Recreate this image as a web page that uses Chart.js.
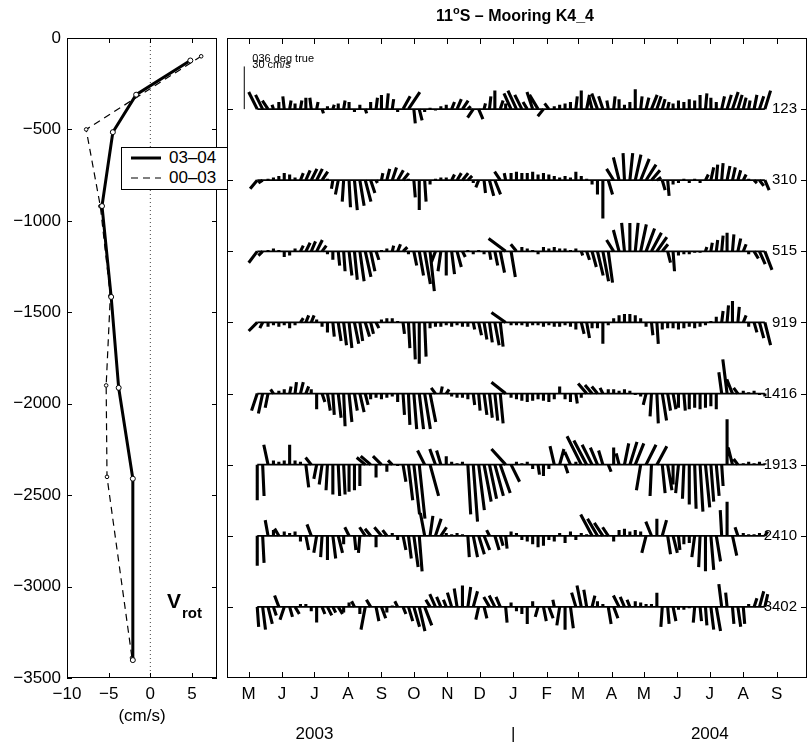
<!DOCTYPE html>
<html lang="en">
<head>
<meta charset="utf-8">
<title>11°S – Mooring K4_4</title>
<script src="https://cdn.jsdelivr.net/npm/chart.js@4.4.1/dist/chart.umd.min.js"></script>
<style>
  html, body { margin: 0; padding: 0; background: #fff; }
  #page { position: relative; width: 808px; height: 744px; overflow: hidden;
          font-family: "Liberation Sans", Arial, Helvetica, sans-serif; color: #000; }
  #profileChart { position: absolute; left: 0; top: 0; }
  #stickChart { position: absolute; left: 222px; top: 0; }
  #legend { position: absolute; left: 121px; top: 147px; width: 105px; height: 41px;
            border: 1px solid #000; background: #fff; font-size: 17px; }
  .row { position: absolute; left: 0; width: 105px; height: 20px; line-height: 20px; }
  .row svg { position: absolute; left: 9px; top: 0; }
  .row span { position: absolute; left: 47px; white-space: nowrap; }
</style>
</head>
<body>
<div id="page">
  <canvas id="profileChart" width="222" height="744"></canvas>
  <canvas id="stickChart" width="586" height="744"></canvas>
  <div id="legend">
    <div class="row" style="top:0px">
      <svg width="30" height="20"><line x1="0" y1="10" x2="30" y2="10" stroke="#000" stroke-width="3"/></svg>
      <span>03–04</span>
    </div>
    <div class="row" style="top:20px">
      <svg width="30" height="20"><line x1="0" y1="10" x2="30" y2="10" stroke="#000" stroke-width="1.2" stroke-dasharray="7 5"/></svg>
      <span>00–03</span>
    </div>
  </div>
</div>
<script>
// ---------- left panel: mean rotated velocity profile ----------
const depth0304 = [123, 310, 515, 919, 1416, 1913, 2410, 3402];
const vrot0304 = [4.8, -1.7, -4.5, -5.8, -4.7, -3.8, -2.1, -2.1];
const depth0003 = [100, 500, 920, 1410, 1900, 2400, 3390];
const vrot0003 = [6.1, -7.7, -6.0, -4.8, -5.3, -5.2, -2.2];
const profileXTicks = [-10, -5, 0, 5];
const profileYTicks = [0, -500, -1000, -1500, -2000, -2500, -3000, -3500];

// ---------- right panel: stick plot, time in days since 1 May 2003 ----------
const monthDays = [0, 31, 61, 92, 123, 153, 184, 214, 245, 276, 305, 336, 366, 397, 427, 458, 489];
const monthLabels = ['M', 'J', 'J', 'A', 'S', 'O', 'N', 'D', 'J', 'F', 'M', 'A', 'M', 'J', 'J', 'A', 'S'];
const yearDays = [61, 245, 427];
const yearLabels = ['2003', '|', '2004'];
const depths = [123, 310, 515, 919, 1416, 1913, 2410, 3402];
const scaleBarDay = -4;
const scaleBarCm = 30;

const stickDays = [8, 13, 18, 23, 28, 33, 38, 43, 48, 53, 58, 63, 68, 73, 78, 83, 88, 93, 98, 103,
  108, 113, 118, 123, 128, 133, 138, 143, 148, 153, 158, 163, 168, 173, 178, 183, 188, 193, 198, 203,
  208, 213, 218, 223, 228, 233, 238, 243, 248, 253, 258, 263, 268, 273, 278, 283, 288, 293, 298, 303,
  308, 313, 318, 323, 328, 333, 338, 343, 348, 353, 358, 363, 368, 373, 378, 383, 388, 393, 398, 403,
  408, 413, 418, 423, 428, 433, 438, 443, 448, 453, 458, 463, 468, 473, 478];

// cross-axis (u) and along-axis (v) components, cm/s
const u123 = [-6,-5,-4,-1,0,-1,1,0,1,0, -1,1,1,0,1,0,1,0,0,0, 1,0,1,0,1,1,0,5,8,1, 2,0,0,0,0,0,2,3,4,2, -4,3,1,1,0,2,0,-5,-6,-5, -3,-4,-6,-4,-3,0,0,0,0,1, 0,2,-2,-4,-3,-1,1,0,0,0, 0,1,2,4,3,2,1,0,0,0, 0,0,0,1,0,0,2,3,4,3, 2,1,2,3,4];
const v123 = [12,10,6,3,5,9,6,4,6,8, 8,5,-3,2,3,4,6,5,-2,3, -3,5,8,10,11,7,-2,9,12,-10, -8,-2,1,-1,2,3,5,7,6,2, -6,-7,4,9,13,6,4,11,13,10, 5,12,10,-5,4,2,3,4,5,9, 13,10,8,11,9,6,9,7,3,5, 14,9,8,10,9,7,5,4,6,5, 7,6,10,11,8,5,9,10,12,10, 8,6,10,9,13];
const u310 = [-5,-3,0,0,0,0,0,0,2,3, 4,4,4,0,-1,-2,-1,1,2,3, 4,3,1,1,2,3,4,4,0,1, 0,1,0,0,0,0,2,3,4,3, 0,-2,1,3,4,-4,-1,0,0,0, 0,0,0,0,0,0,0,0,0,0, 0,0,0,0,0,3,-5,-4,-1,2, 4,6,7,6,3,2,1,0,0,0, 0,0,0,2,2,1,1,2,2,2, 2,0,2,3,3];
const v310 = [-6,-2,1,2,3,5,4,2,5,7, 8,8,6,1,-6,-10,-15,-19,-21,-18, -15,-9,-2,5,8,9,7,5,1,-12, -21,-15,-3,1,2,2,4,5,5,3, -2,-5,-9,-11,-10,6,5,5,6,5, 5,6,4,5,4,3,2,3,2,6, 3,1,-3,-10,-27,-10,8,16,19,19, 18,15,11,7,2,-7,-11,-3,-2,1, -2,1,-2,4,9,11,12,10,9,7, 4,1,-2,-4,-7];
const u515 = [-6,-3,0,0,0,0,0,0,2,3, 3,4,3,0,0,1,1,2,2,3, 4,3,2,0,0,1,2,3,0,2, 3,4,3,-3,-2,0,2,3,2,0, 0,0,0,1,2,3,-12,3,-4,0, 0,0,0,0,0,0,0,0,0,0, 1,2,3,4,4,3,-5,-4,-2,0, 2,4,6,7,7,4,2,1,0,0, 0,0,0,1,1,1,1,0,1,2, 2,0,3,4,5];
const v515 = [-8,-3,1,2,1,-4,-3,2,4,6, 7,8,4,-2,-6,-10,-14,-17,-20,-21, -18,-14,-6,1,2,4,5,3,-2,-10, -17,-23,-28,-8,-14,-17,-16,-11,-4,1, -2,1,-2,-6,-10,-15,9,-18,5,3, 2,1,-2,3,2,3,2,2,1,2, -3,-6,-11,-17,-21,-22,8,15,20,20, 20,19,16,13,10,5,-8,-14,-3,-2, -2,-1,-1,3,6,8,11,13,12,9, 5,-2,-5,-9,-13];
const u919 = [-6,-2,0,0,0,0,0,0,2,2, 2,0,0,0,1,2,2,2,3,2, 3,2,2,0,0,0,0,1,1,1, 0,1,0,0,0,0,0,0,0,0, 1,2,2,2,3,2,-10,0,0,0, 0,0,0,0,0,0,0,0,0,0, 2,2,0,0,0,0,0,0,0,0, 0,0,0,1,1,0,0,0,0,0, 0,0,0,0,0,0,1,1,0,1, 2,0,2,3,4];
const v919 = [-6,-4,-3,-2,-3,-2,-4,-2,3,5, 5,2,-3,-7,-10,-13,-16,-18,-15,-13, -10,-8,-4,2,3,3,1,-8,-18,-26, -29,-24,-4,-3,-3,-2,-3,-2,-3,-3, -5,-9,-12,-14,-16,-17,7,-2,-2,-2, -3,-2,-2,-3,-2,-3,-3,-2,-3,-5, -8,-11,-4,-4,-15,-2,3,5,6,6, 5,3,-3,-9,-15,-5,-4,-4,-5,-4, -3,-4,-3,-2,1,4,8,12,15,11, 5,-3,-7,-11,-16];
const u1416 = [-4,-3,-2,-2,0,0,1,1,2,2, 0,0,2,2,1,2,1,2,2,3, 2,0,0,0,0,0,0,1,1,2, 3,4,4,-3,1,2,0,0,0,0, 1,1,2,2,2,2,-10,0,0,0, 0,0,0,0,0,0,0,0,0,1, 0,-6,-5,-4,-2,0,0,0,0,0, 0,0,-2,-1,1,3,2,2,0,1, 0,0,0,0,0,0,-2,-3,-4,-3, 0,0,0,0,0];
const v1416 = [-12,-14,-10,3,2,3,5,8,8,5, 3,-11,-6,-12,-15,-17,-23,-20,-12,-13, -8,-4,-3,-4,-3,-2,-6,-15,-22,-25, -25,-25,-20,4,5,3,-2,-3,-3,-4, -8,-12,-15,-17,-19,-21,8,-3,-4,-5, -6,-5,-4,-5,-6,-4,5,-4,-6,-7, -3,7,6,5,4,3,3,2,3,2, -1,-2,-8,-16,-21,-19,-12,-11,-10,-12, -11,-10,-11,-10,-9,-11,15,24,10,4, 2,1,2,-1,-2];
const u1913 = [0,1,-3,0,0,0,0,0,0,2, -4,-2,-2,-1,0,1,1,0,0,0, -6,-7,0,-6,0,-3,0,2,3,4, 4,-5,6,-4,-3,0,0,0,0,2, 3,4,5,5,6,7,-10,6,0,0, 0,0,1,0,0,-3,3,2,-4,0, -10,-9,-7,-5,-3,2,0,-2,3,5, 6,-3,7,-1,7,2,3,0,-2,-1, 0,1,2,3,2,2,1,0,-3,-3, 0,0,0,0,0];
const v1913 = [-25,-22,14,3,2,3,14,3,2,-16, 5,-10,-14,-18,-21,-22,-21,-19,-18,-15, 5,6,-9,6,-5,3,-1,-12,-25,-35, -38,10,-22,11,10,6,2,1,2,-35, -40,-32,-26,-24,-22,-20,11,-12,2,1, 2,-3,-7,-8,-3,13,11,-6,9,2, 20,17,14,12,10,-5,12,8,15,16, 15,-18,14,-22,13,-20,-18,-14,-20,-24, -28,-31,-33,-30,-26,-22,-15,32,12,4, 1,2,1,2,1];
const u2410 = [0,1,-2,0,-3,0,0,0,0,2, -3,-2,-1,0,2,3,0,-3,1,-1, -4,-4,0,-5,-3,0,0,2,2,3, 2,-3,2,4,4,0,0,0,0,1, 3,4,4,-2,3,2,1,0,0,0, 0,0,0,0,0,0,0,0,0,0, 0,0,-8,-7,-6,-4,0,0,0,0, 0,0,-3,-4,0,3,2,3,1,0, 0,-2,-1,0,2,3,-1,0,3,-2, 0,0,0,0,2];
const v2410 = [-21,-19,11,4,5,3,2,3,-4,-10, 8,-12,-15,-17,-16,-12,-6,6,-10,-12, 6,5,-8,6,4,2,-3,-10,-16,-22, -25,16,14,12,6,2,1,2,1,-15, -15,-13,-10,4,-10,-7,-9,3,2,-3, -4,-6,-8,-7,-3,-4,2,-5,3,-3, 2,1,15,12,9,6,-4,4,5,3, 4,3,-12,10,12,11,-13,-12,-10,-6, -5,-15,-22,-25,-24,-18,18,24,-14,6, 2,1,1,2,3];
const u3402 = [1,2,3,2,-3,-3,2,3,0,0, 0,0,2,3,2,3,0,0,-2,0, -3,-3,2,3,0,0,-2,2,3,4, 4,5,-3,-4,-3,-2,-3,-2,0,2, 3,-2,2,-4,-4,-3,1,0,0,0, 0,0,-2,2,3,-1,-2,0,2,-3, -3,-2,2,0,0,2,3,-4,-3,-2, 0,0,0,0,0,-1,1,2,0,0, 0,-1,1,1,2,3,-2,-1,1,2, 1,0,2,3,2];
const v3402 = [-14,-16,-12,-6,8,-9,-7,-5,2,2, -3,-11,-5,-6,-4,-5,-4,3,4,-5, -16,5,-10,-8,-4,1,4,-5,-10,-14, -17,-13,5,9,7,5,10,13,15,14, 11,-9,-8,7,8,7,-11,3,-3,-5, -12,4,-7,-10,-8,5,-13,-16,-15,10, 15,12,8,4,2,-12,-8,8,7,5, 4,3,2,2,10,-14,-12,-10,-2,-2, -1,-11,-10,-13,-16,-17,16,10,-12,-14, -12,2,6,11,9];

const stickU = [u123, u310, u515, u919, u1416, u1913, u2410, u3402];
const stickV = [v123, v310, v515, v919, v1416, v1913, v2410, v3402];
stickU.forEach((u, r) => {
  if (u.length !== stickDays.length || stickV[r].length !== stickDays.length) {
    throw new Error('row ' + depths[r] + ' has ' + u.length + '/' + stickV[r].length + ' values');
  }
});

// ---------- shared look ----------
const FONT = '"Liberation Sans", Arial, Helvetica, sans-serif';
Chart.defaults.font.family = FONT;
Chart.defaults.font.size = 17;
Chart.defaults.color = '#000';

const minus = v => String(v).replace('-', '\u2212');
const rowStep = 50;  // cm/s between stick rows
const rowBases = depths.map((d, r) => -(r + 1) * rowStep);

function boxAndTicks(chart, xTicks, yTicks, len) {
  const {ctx, chartArea: a, scales} = chart;
  ctx.save();
  ctx.strokeStyle = '#000';
  ctx.lineWidth = 1;
  ctx.strokeRect(a.left + 0.5, a.top + 0.5, a.width - 1, a.height - 1);
  ctx.beginPath();
  xTicks.forEach(v => {
    const x = Math.round(scales.x.getPixelForValue(v)) + 0.5;
    ctx.moveTo(x, a.bottom); ctx.lineTo(x, a.bottom - len);
    ctx.moveTo(x, a.top); ctx.lineTo(x, a.top + len);
  });
  yTicks.forEach(v => {
    const y = Math.round(scales.y.getPixelForValue(v)) + 0.5;
    ctx.moveTo(a.left, y); ctx.lineTo(a.left + len, y);
    ctx.moveTo(a.right, y); ctx.lineTo(a.right - len, y);
  });
  ctx.stroke();
  ctx.restore();
}

// ---------- left chart ----------
const profileDecor = {
  id: 'profileDecor',
  afterDraw(chart) {
    boxAndTicks(chart, profileXTicks, profileYTicks, 5);
    const {ctx, scales} = chart;
    const x = scales.x.getPixelForValue(2);
    const y = scales.y.getPixelForValue(-3117);
    ctx.save();
    ctx.fillStyle = '#000';
    ctx.textAlign = 'left';
    ctx.textBaseline = 'alphabetic';
    ctx.font = 'bold 21px ' + FONT;
    ctx.fillText('V', x, y);
    const w = ctx.measureText('V').width;
    ctx.font = 'bold 15px ' + FONT;
    ctx.fillText('rot', x + w + 1, y + 10);
    ctx.restore();
  }
};

//eslint-disable-next-line
const profileChart = new Chart(document.getElementById('profileChart'), {
  type: 'line',
  data: {
    datasets: [{
      label: '03–04',
      data: depth0304.map((d, i) => ({x: vrot0304[i], y: -d})),
      borderColor: '#000',
      borderWidth: 3,
      pointRadius: 2.5,
      pointBorderWidth: 1,
      pointBorderColor: '#000',
      pointBackgroundColor: '#fff'
    }, {
      label: '00–03',
      data: depth0003.map((d, i) => ({x: vrot0003[i], y: -d})),
      borderColor: '#000',
      borderWidth: 1.2,
      borderDash: [7, 5],
      pointRadius: 1.8,
      pointBorderWidth: 1,
      pointBorderColor: '#000',
      pointBackgroundColor: '#fff'
    }, {
      label: 'zero',
      data: [{x: 0, y: profileYTicks[0]}, {x: 0, y: profileYTicks[profileYTicks.length - 1]}],
      borderColor: '#444',
      borderWidth: 1,
      borderDash: [1, 3],
      pointRadius: 0
    }]
  },
  options: {
    responsive: false,
    animation: false,
    events: [],
    layout: {padding: {left: 0, right: 5, top: 38, bottom: 0}},
    plugins: {legend: {display: false}, tooltip: {enabled: false}},
    scales: {
      x: {
        type: 'linear', min: -10, max: 8,
        afterBuildTicks: s => { s.ticks = profileXTicks.map(v => ({value: v})); },
        afterFit: s => { s.height = 66; },
        grid: {display: false, drawTicks: false, tickLength: 0},
        border: {display: false},
        ticks: {padding: 6, autoSkip: false, maxRotation: 0, callback: v => minus(v)},
        title: {display: true, text: '(cm/s)', padding: {top: 0, bottom: 17}}
      },
      y: {
        type: 'linear', min: -3500, max: 0,
        afterBuildTicks: s => { s.ticks = profileYTicks.map(v => ({value: v})); },
        afterFit: s => { s.width = 67; },
        grid: {display: false, drawTicks: false, tickLength: 0},
        border: {display: false},
        ticks: {padding: 6, autoSkip: false, callback: v => minus(v)}
      }
    }
  },
  plugins: [profileDecor]
});

// ---------- right chart ----------
function buildStickSets(k) {
  const sets = [];
  stickU.forEach((u, r) => {
    const v = stickV[r];
    const base = rowBases[r];
    sets.push({
      label: depths[r] + ' m baseline',
      data: [{x: stickDays[0], y: base}, {x: stickDays[stickDays.length - 1], y: base}],
      borderColor: '#000', borderWidth: 1.8, pointRadius: 0
    });
    const pts = [];
    stickDays.forEach((d, i) => {
      pts.push({x: d, y: base}, {x: d + u[i] * k, y: base + v[i]}, {x: d, y: null});
    });
    sets.push({label: depths[r] + ' m', data: pts, borderColor: '#000', borderWidth: 3.1,
      borderCapStyle: 'butt', pointRadius: 0, spanGaps: false});
  });
  sets.push({
    label: 'scale',
    data: [{x: scaleBarDay, y: rowBases[0]}, {x: scaleBarDay, y: rowBases[0] + scaleBarCm}],
    borderColor: '#000', borderWidth: 1, pointRadius: 0
  });
  return sets;
}

const stickDecor = {
  id: 'stickDecor',
  afterDraw(chart) {
    boxAndTicks(chart, monthDays, rowBases, 6);
    const {ctx, chartArea: a, scales} = chart;
    ctx.save();
    ctx.fillStyle = '#000';

    // title
    const cx = (a.left + a.right) / 2 - 2;
    ctx.textBaseline = 'alphabetic';
    ctx.textAlign = 'left';
    ctx.font = 'bold 16px ' + FONT;
    const w1 = ctx.measureText('11').width;
    const w3 = ctx.measureText('S – Mooring K4_4').width;
    ctx.font = 'bold 11px ' + FONT;
    const w2 = ctx.measureText('o').width;
    const tx = cx - (w1 + w2 + w3) / 2;
    ctx.font = 'bold 16px ' + FONT;
    ctx.fillText('11', tx, 21);
    ctx.font = 'bold 11px ' + FONT;
    ctx.fillText('o', tx + w1, 14);
    ctx.font = 'bold 16px ' + FONT;
    ctx.fillText('S – Mooring K4_4', tx + w1 + w2, 21);

    // depth labels at the right end of each row
    ctx.font = '15px ' + FONT;
    ctx.textAlign = 'right';
    ctx.textBaseline = 'middle';
    depths.forEach((d, r) => {
      ctx.fillText(String(d), a.right - 10, scales.y.getPixelForValue(rowBases[r]));
    });

    // years
    ctx.font = '17px ' + FONT;
    ctx.textAlign = 'center';
    ctx.textBaseline = 'alphabetic';
    yearDays.forEach((d, i) => {
      ctx.fillText(yearLabels[i], scales.x.getPixelForValue(d), a.bottom + 61);
    });

    // scale bar text
    const bx = scales.x.getPixelForValue(scaleBarDay) + 8;
    const by = scales.y.getPixelForValue(rowBases[0] + scaleBarCm);
    ctx.font = '11px ' + FONT;
    ctx.textAlign = 'left';
    ctx.fillText('036 deg true', bx, by - 4.5);
    ctx.fillText('30 cm/s', bx, by + 1.5);
    ctx.restore();
  }
};

const stickChart = new Chart(document.getElementById('stickChart'), {
  type: 'line',
  data: {datasets: buildStickSets(1)},
  options: {
    responsive: false,
    animation: false,
    events: [],
    layout: {padding: {left: 5, right: 1, top: 38, bottom: 0}},
    plugins: {legend: {display: false}, tooltip: {enabled: false}},
    elements: {line: {tension: 0}},
    scales: {
      x: {
        type: 'linear', min: -20, max: 517,
        afterBuildTicks: s => { s.ticks = monthDays.map(v => ({value: v})); },
        afterFit: s => { s.height = 66; },
        grid: {display: false, drawTicks: false, tickLength: 0},
        border: {display: false},
        ticks: {padding: 6, autoSkip: false, maxRotation: 0, callback: (v, i) => monthLabels[i]}
      },
      y: {type: 'linear', display: false, min: -450, max: 0}
    }
  },
  plugins: [stickDecor]
});

// same pixel scale for both stick components: days per cm/s from the fitted axes
const xs = stickChart.scales.x;
const ys = stickChart.scales.y;
const pxPerDay = xs.getPixelForValue(1) - xs.getPixelForValue(0);
const pxPerCm = ys.getPixelForValue(0) - ys.getPixelForValue(1);
stickChart.data.datasets = buildStickSets(pxPerCm / pxPerDay);
stickChart.update('none');
</script>
</body>
</html>
